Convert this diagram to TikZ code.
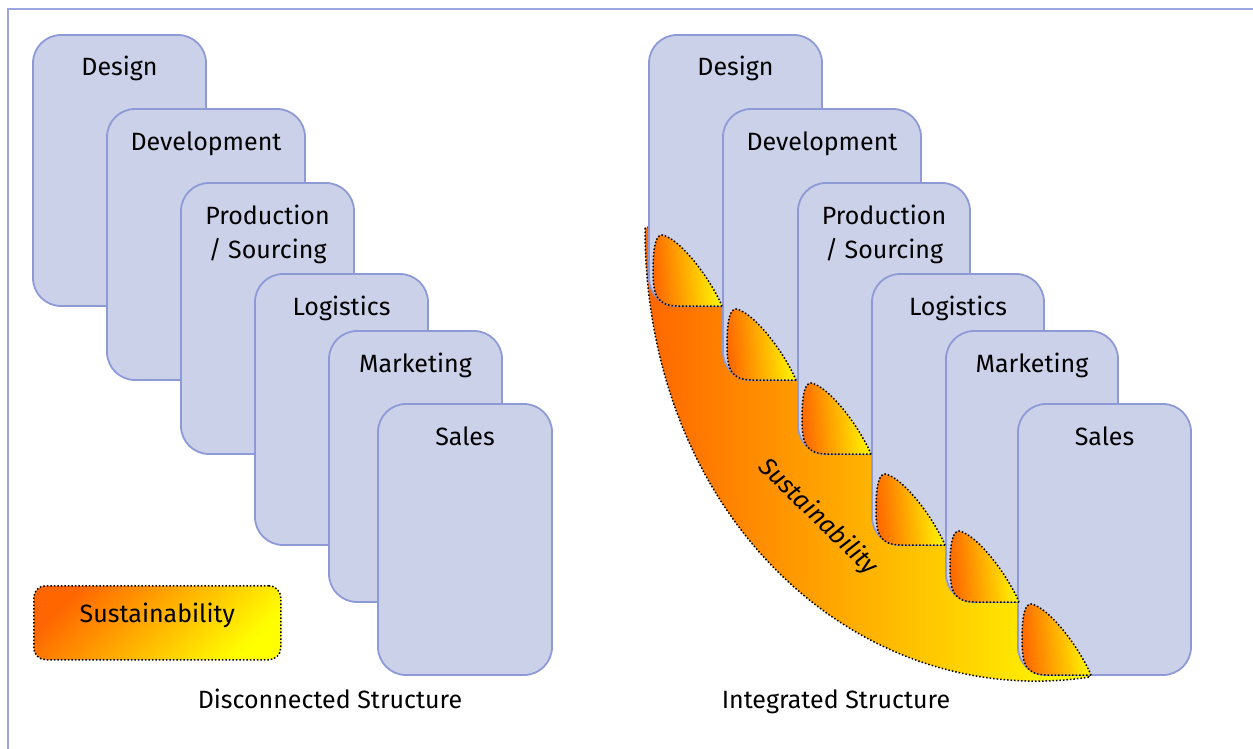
\documentclass[tikz,border=0pt]{standalone}
\usepackage{fontspec}
\setmainfont{Fira Sans}
\usetikzlibrary{positioning}

\definecolor{cardfill}{RGB}{204,209,234}
\definecolor{cardline}{RGB}{142,154,214}
\definecolor{framecol}{RGB}{157,165,222}
\definecolor{sorange}{RGB}{255,102,0}
\definecolor{syellow}{RGB}{255,255,0}

\tikzset{
  card/.style={draw=cardline, fill=cardfill, line width=1.8pt, rounded corners=28pt,
    anchor=north west, minimum height=271pt, outer sep=0pt, inner sep=0pt},
  cardtxt/.style={anchor=base, align=center, inner sep=0pt},
  drop/.style={draw=black, dotted, line width=1.5pt, left color=sorange, right color=syellow, shading angle=95},
  legendbox/.style={draw=black, dotted, line width=1.5pt, rounded corners=12pt, left color=sorange,
    right color=syellow, shading angle=45, anchor=north west, minimum width=247pt, minimum height=74pt}
}

\begin{document}
\begin{tikzpicture}[x=1pt, y=-1pt, font=\fontsize{25}{34}\selectfont]
  \useasboundingbox (0,0) rectangle (1253,749);
  \draw[framecol, line width=1.5pt] (8,749) -- (8,9) -- (1253,9);

  % disconnected: cards only
  \foreach \lab/\x/\y/\w/\dy [count=\i] in {Design/33/35/173/41, Development/107/109/198/41,
      {Production\\/ Sourcing}/181/183/173/75, Logistics/255/274/173/41, Marketing/329/331/173/41, Sales/378/404/174/41} {
    \node[card, minimum width=\w pt] (L\i) at (\x,\y) {};
    \node[cardtxt] (L\i-txt) at ([yshift=-\dy pt]L\i.north) {\lab};
  }
  \node[legendbox] (legend) at (33,585) {};
  \node[cardtxt] (legend-txt) at (legend.center) {Sustainability};
  \node[anchor=base] (capL) at (330,708) {Disconnected Structure};

  % integrated: band behind the cards
  \path[draw=black, dotted, line width=1.5pt, left color=sorange, right color=syellow]
    (645,228) .. controls (645,520) and (860,712) .. (1090,677)
    -- (1023,597) -- (951,541) -- (877,449) -- (803,375) -- (728,301) -- (654,226) -- cycle;
  \node[rotate=-44, font=\fontsize{25}{34}\selectfont\itshape] (band-txt) at (818,517) {Sustainability};
  \foreach \lab/\x/\y/\w/\dy [count=\i] in {Design/649/35/173/41, Development/723/109/198/41,
      {Production\\/ Sourcing}/798/183/172/75, Logistics/872/274/172/41, Marketing/946/331/172/41, Sales/1018/404/173/41} {
    \node[card, minimum width=\w pt] (R\i) at (\x,\y) {};
    \node[cardtxt] (R\i-txt) at ([yshift=-\dy pt]R\i.north) {\lab};
  }
  % drops in the lower left corners
  \foreach \i in {1,...,6}
    \draw[drop, shift={(R\i.south west)}] (73,0) -- (30,0) .. controls (8,0) and (4,-10) .. (4,-35)
      .. controls (4,-60) and (7,-71) .. (13,-71) .. controls (30,-68) and (60,-30) .. (73,0) -- cycle;
  \node[anchor=base] (capR) at (836,708) {Integrated Structure};
\end{tikzpicture}
\end{document}
